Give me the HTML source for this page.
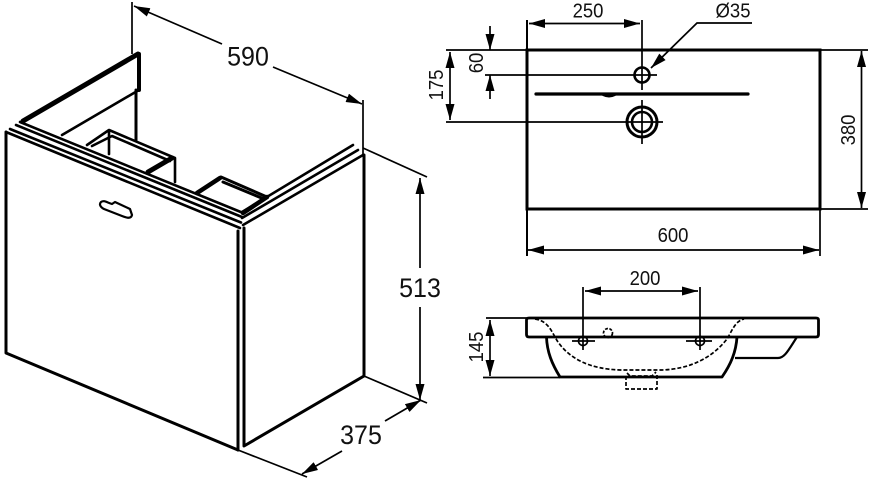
<!DOCTYPE html>
<html><head><meta charset="utf-8"><style>
html,body{margin:0;padding:0;background:#fff}
svg{display:block}
text{font-family:"Liberation Sans",sans-serif;fill:#111}
</style></head><body>
<svg width="870" height="480" viewBox="0 0 870 480" xmlns="http://www.w3.org/2000/svg">
<defs>
<marker id="a" viewBox="0 0 16 9" markerWidth="16" markerHeight="9" refX="16" refY="4.5" orient="auto-start-reverse" markerUnits="userSpaceOnUse"><path d="M0 0L16 4.500L0 9Z" fill="#000"/></marker>
</defs>
<!-- Cabinet -->
<g fill="none" stroke="#000" stroke-width="3" stroke-linejoin="round" stroke-linecap="round">
<path d="M6 132V353L238 450"/>
<path d="M238 231V450M244 228V446L364 376V155" />
<path d="M6 132L240 228M10 129L241 222.500M16 125L242 217M20 122L242 212.500" stroke-width="2.600"/>
<path d="M243 225L363 155M242 218L358 150M242 212L353 145" stroke-width="2.600"/>
<path d="M23 121L138 54" stroke-width="5"/>
<path d="M139 54V90" stroke-width="4"/>
<path d="M62 135L139 90" stroke-width="2.600"/>
<path d="M136 90V140" stroke-width="3"/>
<path d="M87 145L109 130L175 158V182M109 130V154M92 146L112 136L170 161" stroke-width="2.600"/>
<path d="M148 172L172 158" stroke-width="5"/>
<path d="M221 177L267 197M223 182L264 199" stroke-width="3"/>
<path d="M197 193L220 178" stroke-width="4.500"/>
<path d="M243 213L267 197" stroke-width="4.500"/>
<path d="M101 202C104 200 106 202 112 204L115 202L130 209L132 215C131 219 127 218 122 216L104 209C100 207 99 204 101 202Z" stroke-width="2.200"/>
</g>
<!-- Cabinet dimensions -->
<g fill="none" stroke="#000" stroke-width="1.700">
<path d="M132 2V54"/>
<path d="M363 100V155" />
<path d="M134 6L222 44" marker-start="url(#a)"/>
<path d="M273 67L362 104" marker-end="url(#a)"/>
<path d="M363 148L427 177"/>
<path d="M364 376L427 403"/>
<path d="M238 450L307 477"/>
<path d="M420 178V268" marker-start="url(#a)"/>
<path d="M420 307V400" marker-end="url(#a)"/>
<path d="M342 451L302 474" marker-end="url(#a)"/>
<path d="M385 421L421 400" marker-end="url(#a)"/>
</g>
<g font-size="25" text-anchor="middle">
<text transform="translate(248 65.500) scale(1 1.080)">590</text>
<text transform="translate(420 297) scale(1 1.080)">513</text>
<text transform="translate(361 444) scale(1 1.080)">375</text>
</g>

<!-- Top view -->
<g fill="none" stroke="#000" stroke-linecap="round">
<path d="M527 50H820V209H527Z" stroke-width="3"/>
<path d="M536 94H748" stroke-width="3.200"/>
<path d="M603 95Q609 98 615 95" stroke-width="2"/>
<circle cx="642" cy="75" r="7.500" stroke-width="2.600" fill="#fff"/>
<circle cx="642" cy="122" r="15" stroke-width="3"/>
<circle cx="642" cy="122" r="10" stroke-width="2.600"/>
</g>
<g fill="none" stroke="#000" stroke-width="1.700">
<path d="M527 20V256" stroke-width="2"/>
<path d="M642 20V90M642 100V144"/>
<path d="M446 50H527M485 75H657M446 122H663"/>
<path d="M820 50H868M820 209H868M820 209V256"/>
<path d="M529 23.500H640" marker-start="url(#a)" marker-end="url(#a)"/>
<path d="M490 26V50" marker-end="url(#a)"/>
<path d="M490 99V75" marker-end="url(#a)"/>
<path d="M450 52V120" marker-start="url(#a)" marker-end="url(#a)"/>
<path d="M861.500 51V208" marker-start="url(#a)" marker-end="url(#a)"/>
<path d="M528 250H819" marker-start="url(#a)" marker-end="url(#a)"/>
<path d="M752 23H697L651 68" marker-end="url(#a)"/>
</g>
<g font-size="18.500" text-anchor="middle">
<text transform="translate(588 17.500) scale(1 1.120)">250</text>
<text transform="translate(733 17.500) scale(1 1.120)">Ø35</text>
<text transform="translate(673 242) scale(1 1.120)">600</text>
<text transform="translate(645 285) scale(1 1.120)">200</text>
<text transform="translate(483 63) rotate(-90) scale(1 1.120)">60</text>
<text transform="translate(443 85) rotate(-90) scale(1 1.120)">175</text>
<text transform="translate(855 130) rotate(-90) scale(1 1.120)">380</text>
<text transform="translate(483 347) rotate(-90) scale(1 1.120)">145</text>
</g>

<!-- Side view -->
<g fill="none" stroke="#000" stroke-linejoin="round">
<path d="M529 318H816Q818.500 318 818.500 320V334.500Q818.500 337 816 337H529Q526.500 337 526.500 334.500V320Q526.500 318 529 318Z" stroke-width="2.800"/>
<path d="M546.500 337C547 352 552 364 560 377H722C731 364 736 352 737 337" stroke-width="2.800"/>
<path d="M735 358H778C785 358 789 349 797 337" stroke-width="2.200"/>
<path d="M535 319C549 321 552 333 558 342C570 359 590 369 620 370H662C690 369 712 358 727 339C732 331 735 321 744 319" stroke-width="1.700" stroke-dasharray="4 2"/>
<circle cx="608" cy="333" r="4.500" stroke-width="1.700" stroke-dasharray="3 1.500"/>
<path d="M626 376V389H657V374M627 373L630 376H652L656 372" stroke-width="1.700" stroke-dasharray="4 2"/>
<circle cx="583" cy="341" r="4.500" stroke-width="1.700"/>
<circle cx="700" cy="341" r="4.500" stroke-width="1.700"/>
<path d="M572 341H595M686 341H712" stroke-width="1.700"/>
</g>
<g fill="none" stroke="#000" stroke-width="1.700">
<path d="M583 287V350M700 287V350"/>
<path d="M486 318H527M483 377.500H560"/>
<path d="M585 291H698" marker-start="url(#a)" marker-end="url(#a)"/>
<path d="M490 320V376" marker-start="url(#a)" marker-end="url(#a)"/>
</g>
</svg>
</body></html>
